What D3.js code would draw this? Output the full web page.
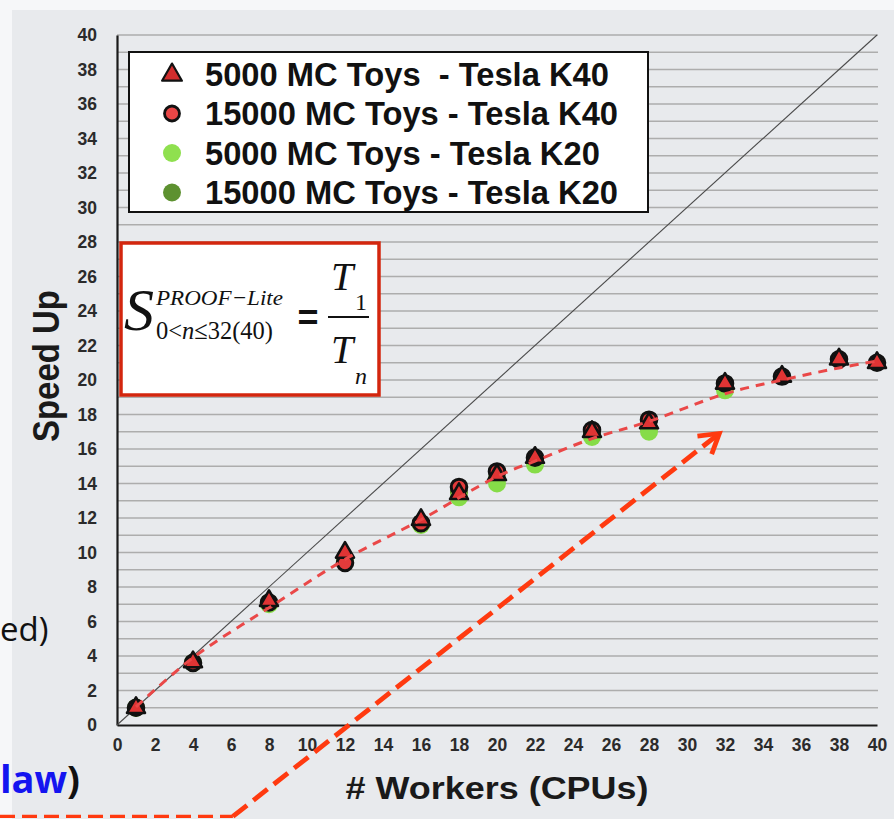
<!DOCTYPE html>
<html>
<head>
<meta charset="utf-8">
<script src="https://cdn.jsdelivr.net/npm/d3@7"></script>
<style>
  html, body { margin: 0; padding: 0; background: #f6f7f9; }
  svg { display: block; }
</style>
</head>
<body>
<svg id="chart" width="894" height="819"></svg>
<script>
// Number of PROOF-Lite workers
const workers = [1, 4, 8, 12, 16, 18, 20, 22, 25, 28, 32, 35, 38, 40];
// Speed up measured on the Tesla K40 node (up to 40 workers)
const k40Toys5000  = [1.0, 3.65, 7.2, 10.0, 11.9, 13.4, 14.5, 15.5, 17.0, 17.5, 19.8, 20.2, 21.2, 21.0];
const k40Toys15000 = [1.0, 3.6, 7.1, 9.4, 11.7, 13.8, 14.7, 15.5, 17.1, 17.7, 19.8, 20.2, 21.2, 21.0];
// Speed up measured on the Tesla K20 node (up to 32 workers)
const k20Workers   = [1, 4, 8, 12, 16, 18, 20, 22, 25, 28, 32];
const k20Toys5000  = [1.0, 3.6, 7.0, 9.6, 11.6, 13.2, 14.0, 15.1, 16.7, 17.0, 19.4];
const k20Toys15000 = [1.0, 3.6, 7.1, 9.5, 11.7, 13.5, 14.3, 15.3, 16.9, 17.2, 19.6];
// Smooth trend drawn through the measurements
const trendWorkers = [1, 4, 8, 12, 16, 20, 22, 25, 28, 32, 35, 38, 40];
const trendSpeedUp = [1.05, 3.9, 6.8, 9.6, 11.9, 14.4, 15.3, 16.6, 17.6, 19.2, 20.0, 20.7, 21.1];
// Ideal (linear) scaling
const idealWorkers = [0, 40];
const idealSpeedUp = [0, 40];
// Axis ticks
const xTicks = [0, 2, 4, 6, 8, 10, 12, 14, 16, 18, 20, 22, 24, 26, 28, 30, 32, 34, 36, 38, 40];
const yTicks = [0, 2, 4, 6, 8, 10, 12, 14, 16, 18, 20, 22, 24, 26, 28, 30, 32, 34, 36, 38, 40];
// Legend entries
const legendLabels = ["5000 MC Toys  - Tesla K40", "15000 MC Toys - Tesla K40", "5000 MC Toys - Tesla K20", "15000 MC Toys - Tesla K20"];
// Callout arrow (in data units) pointing at the curve
const arrowFrom = [6.1, -5.3];
const arrowTo = [31.7, 16.9];

const svg = d3.select("#chart");
const x = d3.scaleLinear().domain([0, 40]).range([117, 877]);
const y = d3.scaleLinear().domain([0, 40]).range([725, 35]);
const sans = "'Liberation Sans', Arial, sans-serif";

// plot background
svg.append("rect").attr("x", 12).attr("y", 10).attr("width", 882).attr("height", 809).attr("fill", "#e8eaed");

// horizontal grid, one line per unit
svg.append("g").selectAll("line").data(y.ticks(40).filter(v => v > 0)).join("line")
  .attr("x1", x(0)).attr("x2", x(40) + 1)
  .attr("y1", d => y(d)).attr("y2", d => y(d))
  .attr("stroke", "#adadad").attr("stroke-width", 1.4);

// axes
const gx = svg.append("g").attr("transform", `translate(0,${y(0)})`)
  .call(d3.axisBottom(x).tickValues(xTicks).tickSize(0).tickPadding(14).tickFormat(d3.format("d")));
const gy = svg.append("g").attr("transform", `translate(${x(0)},0)`)
  .call(d3.axisLeft(y).tickValues(yTicks).tickSize(0).tickPadding(20).tickFormat(d3.format("d")));
[gx, gy].forEach(g => {
  g.select(".domain").attr("stroke", "#1a1a1a").attr("stroke-width", 2.2);
  g.selectAll(".tick text")
    .style("font-family", sans).style("font-weight", "bold").style("font-size", "17.5px")
    .style("fill", "#2b2b2b");
});

// axis titles
svg.append("text").attr("x", 497).attr("y", 799).attr("text-anchor", "middle")
  .style("font-family", sans).style("font-weight", "bold").style("font-size", "32px")
  .attr("fill", "#1a1a1a").attr("textLength", 303).attr("lengthAdjust", "spacingAndGlyphs")
  .text("# Workers (CPUs)");
svg.append("text").attr("transform", "translate(59,366) rotate(-90)").attr("text-anchor", "middle")
  .style("font-family", sans).style("font-weight", "bold").style("font-size", "36px")
  .attr("fill", "#1a1a1a").attr("textLength", 152).attr("lengthAdjust", "spacingAndGlyphs")
  .text("Speed Up");

// ideal scaling line
const line = d3.line().x(d => x(d[0])).y(d => y(d[1]));
svg.append("path").datum(d3.zip(idealWorkers, idealSpeedUp)).attr("d", line)
  .attr("fill", "none").attr("stroke", "#4a4a4a").attr("stroke-width", 1.1);

// markers
const tri = d3.symbol().type(d3.symbolTriangle);
svg.append("g").selectAll("circle").data(d3.zip(k20Workers, k20Toys15000)).join("circle")
  .attr("cx", d => x(d[0])).attr("cy", d => y(d[1])).attr("r", 9).attr("fill", "#5e9232");
svg.append("g").selectAll("circle").data(d3.zip(k20Workers, k20Toys5000)).join("circle")
  .attr("cx", d => x(d[0])).attr("cy", d => y(d[1])).attr("r", 9).attr("fill", "#86dc48");
svg.append("g").selectAll("circle").data(d3.zip(workers, k40Toys15000)).join("circle")
  .attr("cx", d => x(d[0])).attr("cy", d => y(d[1])).attr("r", 7.8)
  .attr("fill", "#e33b3b").attr("stroke", "#111").attr("stroke-width", 3);
svg.append("g").selectAll("path").data(d3.zip(workers, k40Toys5000)).join("path")
  .attr("transform", d => `translate(${x(d[0])},${y(d[1])})`)
  .attr("d", tri.size(140)())
  .attr("fill", "#e03434").attr("stroke", "#111").attr("stroke-width", 2.6).attr("stroke-linejoin", "round");

// trend curve
svg.append("path").datum(d3.zip(trendWorkers, trendSpeedUp))
  .attr("d", d3.line().x(d => x(d[0])).y(d => y(d[1])).curve(d3.curveCatmullRom))
  .attr("fill", "none").attr("stroke", "#ea4848").attr("stroke-width", 3).attr("stroke-dasharray", "9,7");

// legend
const lg = svg.append("g");
lg.append("rect").attr("x", 129).attr("y", 52).attr("width", 519).attr("height", 160)
  .attr("fill", "#fff").attr("stroke", "#111").attr("stroke-width", 2);
const rowY = [74, 113.5, 153, 192.5];
lg.append("path").attr("transform", `translate(172,${rowY[0] + 1})`).attr("d", tri.size(170)())
  .attr("fill", "#d12d2d").attr("stroke", "#111").attr("stroke-width", 2.2).attr("stroke-linejoin", "round");
lg.append("circle").attr("cx", 172).attr("cy", rowY[1]).attr("r", 7.5)
  .attr("fill", "#e84646").attr("stroke", "#111").attr("stroke-width", 2.8);
lg.append("circle").attr("cx", 172).attr("cy", rowY[2]).attr("r", 9).attr("fill", "#8fe04f");
lg.append("circle").attr("cx", 172).attr("cy", rowY[3]).attr("r", 9).attr("fill", "#5d9130");
lg.selectAll("text").data(legendLabels).join("text")
  .attr("x", 205).attr("y", (d, i) => rowY[i] + 11.5)
  .style("font-family", sans).style("font-weight", "bold").style("font-size", "32.7px")
  .attr("fill", "#111").style("white-space", "pre")
  .text(d => d);

// speed-up definition box
const serif = "'Liberation Serif', 'Times New Roman', serif";
const fb = svg.append("g").style("font-family", serif).attr("fill", "#111");
fb.append("rect").attr("x", 121).attr("y", 243).attr("width", 258).attr("height", 152)
  .attr("fill", "#fff").attr("stroke", "#d3260e").attr("stroke-width", 3.5);
fb.append("text").attr("x", 124).attr("y", 330).style("font-size", "60px").style("font-style", "italic").text("S");
fb.append("text").attr("x", 156).attr("y", 305).style("font-size", "22px").style("font-style", "italic")
  .attr("textLength", 127).attr("lengthAdjust", "spacingAndGlyphs").text("PROOF\u2212Lite");
const sub = fb.append("text").attr("x", 156).attr("y", 339).style("font-size", "26px")
  .attr("textLength", 117).attr("lengthAdjust", "spacingAndGlyphs");
sub.append("tspan").text("0<");
sub.append("tspan").style("font-style", "italic").text("n");
sub.append("tspan").text("\u226432(40)");
fb.append("text").attr("x", 308).attr("y", 330).attr("text-anchor", "middle")
  .style("font-family", sans).style("font-weight", "bold").style("font-size", "36px").text("=");
fb.append("text").attr("x", 331).attr("y", 290).style("font-size", "40px").style("font-style", "italic").text("T");
fb.append("text").attr("x", 355).attr("y", 310).style("font-size", "24px").text("1");
fb.append("line").attr("x1", 328).attr("x2", 369).attr("y1", 317).attr("y2", 317).attr("stroke", "#111").attr("stroke-width", 2);
fb.append("text").attr("x", 331).attr("y", 363).style("font-size", "40px").style("font-style", "italic").text("T");
fb.append("text").attr("x", 355).attr("y", 384).style("font-size", "24px").style("font-style", "italic").text("n");

// slide text around the chart
svg.append("text").attr("x", 0).attr("y", 641)
  .style("font-family", "'Open Sans', sans-serif").style("font-size", "33px").attr("fill", "#111").text("ed)");
const lt = svg.append("text").attr("x", 0).attr("y", 793)
  .style("font-family", "'Open Sans', sans-serif").style("font-weight", "bold").style("font-size", "38px");
lt.append("tspan").attr("fill", "#1414f0").text("law");
lt.append("tspan").attr("fill", "#111").text(")");

// callout arrow
const ax0 = x(arrowFrom[0]), ay0 = y(arrowFrom[1]), ax1 = x(arrowTo[0]), ay1 = y(arrowTo[1]);
svg.append("line").attr("x1", 0).attr("x2", ax0).attr("y1", ay0).attr("y2", ay0)
  .attr("stroke", "#ff3a10").attr("stroke-width", 3.2).attr("stroke-dasharray", "15,7");
svg.append("line").attr("x1", ax0).attr("y1", ay0).attr("x2", ax1).attr("y2", ay1)
  .attr("stroke", "#ff3a10").attr("stroke-width", 4.8).attr("stroke-dasharray", "18,8");
const ang = Math.atan2(ay1 - ay0, ax1 - ax0);
const head = 22, spread = 0.55;
svg.append("path")
  .attr("d", `M${ax1 - head * Math.cos(ang - spread)},${ay1 - head * Math.sin(ang - spread)}L${ax1},${ay1}L${ax1 - head * Math.cos(ang + spread)},${ay1 - head * Math.sin(ang + spread)}`)
  .attr("fill", "none").attr("stroke", "#ff3a10").attr("stroke-width", 4.8).attr("stroke-linejoin", "miter");
</script>
</body>
</html>
